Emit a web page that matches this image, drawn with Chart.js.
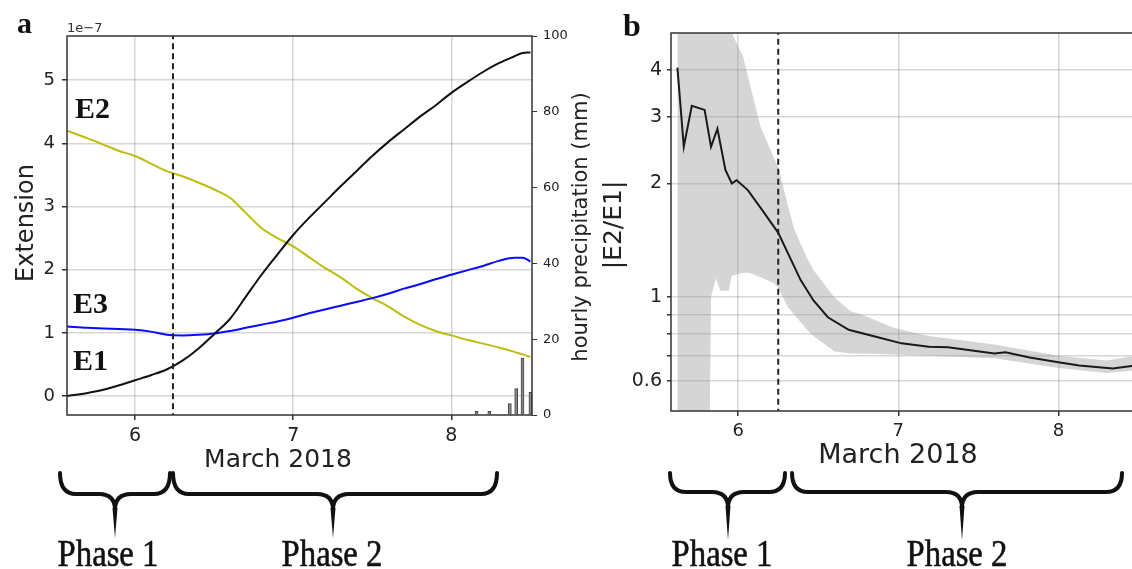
<!DOCTYPE html>
<html>
<head>
<meta charset="utf-8">
<script src="https://cdn.jsdelivr.net/npm/chart.js@4.4.1/dist/chart.umd.min.js"></script>
<style>
  html, body { margin: 0; padding: 0; background: #fff; overflow: hidden; width: 1132px; height: 569px; }
  #wrapA { position: absolute; left: 0; top: 0; width: 600px; height: 569px; }
  #wrapB { position: absolute; left: 600px; top: 0; width: 540px; height: 569px; }
</style>
</head>
<body>
<div id="wrapA"><canvas id="chartA" width="600" height="569" style="width:600px;height:569px"></canvas></div>
<div id="wrapB"><canvas id="chartB" width="540" height="569" style="width:540px;height:569px"></canvas></div>
<script>
// ---- panel a : extension (units of 1e-7), days of March 2018 ----
const days = [5.57, 5.7, 5.8, 5.9, 6.0, 6.1, 6.2, 6.3, 6.4, 6.5, 6.6, 6.7, 6.8, 6.9, 7.0, 7.1, 7.2, 7.3, 7.4, 7.5,
              7.6, 7.7, 7.8, 7.9, 8.0, 8.1, 8.2, 8.3, 8.4, 8.45, 8.5];
const e1 = [0.0, 0.05, 0.1, 0.17, 0.25, 0.33, 0.42, 0.56, 0.75, 0.98, 1.22, 1.57, 1.92, 2.24, 2.55, 2.82, 3.07, 3.32, 3.56, 3.8,
            4.02, 4.22, 4.42, 4.6, 4.8, 4.97, 5.13, 5.27, 5.38, 5.43, 5.44];
const e2 = [4.2, 4.08, 3.98, 3.88, 3.8, 3.68, 3.56, 3.48, 3.38, 3.27, 3.14, 2.9, 2.66, 2.5, 2.37, 2.2, 2.03, 1.88, 1.7, 1.55,
            1.42, 1.26, 1.13, 1.03, 0.96, 0.89, 0.83, 0.77, 0.7, 0.66, 0.62];
const e3 = [1.1, 1.08, 1.07, 1.06, 1.05, 1.02, 0.97, 0.96, 0.97, 0.99, 1.03, 1.08, 1.13, 1.18, 1.24, 1.31, 1.37, 1.43, 1.49, 1.55,
            1.62, 1.7, 1.77, 1.85, 1.92, 1.99, 2.06, 2.14, 2.19, 2.19, 2.13];
const rainDays = [8.16, 8.24, 8.37, 8.41, 8.45, 8.5];
const rainMm = [1, 1, 3, 7, 15, 6];
const splitA = 6.24;
const xTicks = [6, 7, 8];
const yTicksA = [0, 1, 2, 3, 4, 5];
const rainTicks = [0, 20, 40, 60, 80, 100];

// ---- panel b : |E2/E1| ----
const ratioDays = [5.62, 5.66, 5.71, 5.79, 5.83, 5.87, 5.92, 5.96, 5.99, 6.06, 6.15, 6.25, 6.39, 6.47, 6.56, 6.69, 6.89,
                   7.02, 7.19, 7.31, 7.6, 7.67, 7.82, 8.0, 8.13, 8.34, 8.48];
const ratio = [4.05, 2.5, 3.21, 3.13, 2.5, 2.79, 2.17, 2.0, 2.04, 1.92, 1.7, 1.48, 1.11, 0.98, 0.885, 0.82, 0.78,
               0.755, 0.74, 0.737, 0.71, 0.715, 0.693, 0.673, 0.66, 0.648, 0.66];
const bandDays = [5.62, 5.82, 5.83, 5.86, 5.89, 5.94, 5.96, 6.03, 6.07, 6.14, 6.22, 6.25, 6.31, 6.35, 6.43, 6.47, 6.6,
                  6.7, 6.77, 6.97, 7.19, 7.6, 8.0, 8.3, 8.48];
const bandHigh = [8, 8, 8, 8, 8, 8, 5.0, 4.33, 3.7, 2.82, 2.35, 2.21, 1.75, 1.51, 1.27, 1.18, 1.0,
                  0.92, 0.9, 0.83, 0.79, 0.75, 0.7, 0.68, 0.7];
const bandLow = [0.4, 0.4, 1.0, 1.12, 1.04, 1.04, 1.14, 1.16, 1.16, 1.13, 1.09, 1.06, 0.94, 0.9, 0.82, 0.79, 0.72,
                 0.71, 0.71, 0.705, 0.7, 0.69, 0.65, 0.63, 0.64];
const splitB = 6.25;
const yTicksB = [0.6, 0.7, 0.8, 0.9, 1, 2, 3, 4];
const yLabelsB = [0.6, 1, 2, 3, 4];

Chart.defaults.font.family = 'DejaVu Sans';
Chart.defaults.color = '#222';

const pts = (xs, ys) => xs.map((x, i) => ({ x: x, y: ys[i] }));
const gridColor = 'rgba(0,0,0,0.16)';

function line(data, color, extra) {
  return Object.assign({ type: 'line', data: data, borderColor: color, borderWidth: 2, pointRadius: 0,
                         fill: false, tension: 0 }, extra || {});
}

function drawBrace(ctx, x1, x2, xm, yTop, yMid, yTip) {
  const r = 16;
  ctx.save();
  ctx.strokeStyle = '#111';
  ctx.fillStyle = '#111';
  ctx.lineWidth = 4;
  ctx.lineCap = 'round';
  ctx.beginPath();
  ctx.moveTo(x1, yTop);
  ctx.quadraticCurveTo(x1, yMid, x1 + r, yMid);
  ctx.lineTo(xm - r, yMid);
  ctx.quadraticCurveTo(xm, yMid, xm, yMid + r);
  ctx.moveTo(x2, yTop);
  ctx.quadraticCurveTo(x2, yMid, x2 - r, yMid);
  ctx.lineTo(xm + r, yMid);
  ctx.quadraticCurveTo(xm, yMid, xm, yMid + r);
  ctx.stroke();
  ctx.beginPath();
  ctx.moveTo(xm - 2.5, yMid + r - 2);
  ctx.lineTo(xm + 2.5, yMid + r - 2);
  ctx.lineTo(xm, yTip);
  ctx.closePath();
  ctx.fill();
  ctx.restore();
}

function phaseText(ctx, text, cx, base) {
  ctx.save();
  ctx.translate(cx, base);
  ctx.scale(0.86, 1);
  ctx.font = '38px "Liberation Serif"';
  ctx.textAlign = 'center';
  ctx.textBaseline = 'alphabetic';
  ctx.fillStyle = '#111';
  ctx.strokeStyle = '#111';
  ctx.lineWidth = 0.6;
  ctx.fillText(text, 0, 0);
  ctx.strokeText(text, 0, 0);
  ctx.restore();
}

function vText(ctx, text, cx, cy, font) {
  ctx.save();
  ctx.translate(cx, cy);
  ctx.rotate(-Math.PI / 2);
  ctx.font = font;
  ctx.textAlign = 'center';
  ctx.textBaseline = 'middle';
  ctx.fillStyle = '#222';
  ctx.fillText(text, 0, 0);
  ctx.restore();
}

function text(ctx, t, x, y, font, align) {
  ctx.save();
  ctx.font = font;
  ctx.textAlign = align || 'left';
  ctx.textBaseline = 'alphabetic';
  ctx.fillStyle = '#111';
  ctx.fillText(t, x, y);
  ctx.restore();
}

const frame = {
  id: 'frame',
  afterDatasetsDraw(chart) {
    const a = chart.chartArea, ctx = chart.ctx;
    ctx.save();
    ctx.strokeStyle = '#333';
    ctx.lineWidth = 1.5;
    ctx.strokeRect(a.left, a.top, a.right - a.left, a.bottom - a.top);
    ctx.restore();
  }
};

const notesA = {
  id: 'notesA',
  afterDraw(chart) {
    const ctx = chart.ctx;
    text(ctx, 'a', 17, 33, 'bold 30px "Liberation Serif"');
    ctx.save(); ctx.fillStyle = '#333'; ctx.font = '13px "DejaVu Sans"'; ctx.fillText('1e\u22127', 67, 32); ctx.restore();
    text(ctx, 'E2', 75, 118, 'bold 30px "Liberation Serif"');
    text(ctx, 'E3', 73, 313, 'bold 30px "Liberation Serif"');
    text(ctx, 'E1', 73, 370, 'bold 30px "Liberation Serif"');
    vText(ctx, 'Extension', 27, 223, '24px "DejaVu Sans"');
    vText(ctx, 'hourly precipitation (mm)', 582, 227, '21px "DejaVu Sans"');
    ctx.save(); ctx.fillStyle = '#222'; ctx.font = '25px "DejaVu Sans"'; ctx.textAlign = 'center';
    ctx.fillText('March 2018', 278, 467); ctx.restore();
    drawBrace(ctx, 60, 170, 115, 473, 494, 538);
    drawBrace(ctx, 173, 497, 333, 473, 494, 538);
    phaseText(ctx, 'Phase 1', 108, 566);
    phaseText(ctx, 'Phase 2', 332, 566);
  }
};

const notesB = {
  id: 'notesB',
  afterDraw(chart) {
    const ctx = chart.ctx;
    text(ctx, 'b', 23, 36, 'bold 32px "Liberation Serif"');
    vText(ctx, '|E2/E1|', 14, 225, '25px "DejaVu Sans"');
    ctx.save(); ctx.fillStyle = '#222'; ctx.font = '27px "DejaVu Sans"'; ctx.textAlign = 'center';
    ctx.fillText('March 2018', 298, 463); ctx.restore();
    drawBrace(ctx, 70, 185, 128, 473, 492, 540);
    drawBrace(ctx, 192, 522, 362, 473, 492, 540);
    phaseText(ctx, 'Phase 1', 122, 566);
    phaseText(ctx, 'Phase 2', 357, 566);
  }
};

new Chart(document.getElementById('chartA'), {
  type: 'line',
  data: {
    datasets: [
      line([{ x: splitA, y: -1 }, { x: splitA, y: 7 }], '#222', { borderDash: [6, 4] }),
      line(pts(days, e1), '#111', { cubicInterpolationMode: 'monotone' }),
      line(pts(days, e3), '#0a0aff', { cubicInterpolationMode: 'monotone' }),
      line(pts(days, e2), '#bdbd10', { cubicInterpolationMode: 'monotone' }),
      { type: 'bar', data: pts(rainDays, rainMm), yAxisID: 'y1', barThickness: 3,
        backgroundColor: '#8a8a8a', borderColor: '#444', borderWidth: 1 }
    ]
  },
  options: {
    responsive: false,
    animation: false,
    events: [],
    layout: { padding: { top: 36, left: 0, right: 0, bottom: 0 } },
    plugins: { legend: { display: false }, tooltip: { enabled: false } },
    scales: {
      x: {
        type: 'linear', min: 5.57, max: 8.51, offset: false,
        afterBuildTicks: s => { s.ticks = xTicks.map(v => ({ value: v })); },
        afterFit: s => { s.height = 154; },
        grid: { color: gridColor, lineWidth: 1.5, tickLength: 5, tickColor: '#333', offset: false },
        border: { display: false },
        ticks: { font: { size: 19 }, padding: 5, maxRotation: 0 }
      },
      y: {
        position: 'left', min: -0.3, max: 5.7,
        afterBuildTicks: s => { s.ticks = yTicksA.map(v => ({ value: v })); },
        afterFit: s => { s.width = 67; },
        grid: { color: gridColor, lineWidth: 1.5, tickLength: 5, tickColor: '#333' },
        border: { display: false },
        ticks: { font: { size: 18 }, padding: 7 }
      },
      y1: {
        position: 'right', min: 0, max: 100,
        afterBuildTicks: s => { s.ticks = rainTicks.map(v => ({ value: v })); },
        afterFit: s => { s.width = 68; },
        grid: { drawOnChartArea: false, tickLength: 5, tickColor: '#333' },
        border: { display: false },
        ticks: { font: { size: 13 }, padding: 6 }
      }
    }
  },
  plugins: [frame, notesA]
});

new Chart(document.getElementById('chartB'), {
  type: 'line',
  data: {
    datasets: [
      line([{ x: splitB, y: 0.3 }, { x: splitB, y: 9 }], '#222', { borderDash: [6, 4] }),
      line(pts(ratioDays, ratio), '#1a1a1a'),
      line(pts(bandDays, bandLow), 'rgba(0,0,0,0)', { borderWidth: 0 }),
      line(pts(bandDays, bandHigh), 'rgba(0,0,0,0)', { borderWidth: 0, fill: '-1',
            backgroundColor: 'rgba(150,150,150,0.4)' })
    ]
  },
  options: {
    responsive: false,
    animation: false,
    events: [],
    layout: { padding: { top: 33, left: 0, right: 0, bottom: 0 } },
    plugins: { legend: { display: false }, tooltip: { enabled: false } },
    scales: {
      x: {
        type: 'linear', min: 5.58, max: 8.51,
        afterBuildTicks: s => { s.ticks = xTicks.map(v => ({ value: v })); },
        afterFit: s => { s.height = 158; },
        grid: { color: gridColor, lineWidth: 1.5, tickLength: 5, tickColor: '#333' },
        border: { display: false },
        ticks: { font: { size: 18 }, padding: 5, maxRotation: 0 }
      },
      y: {
        type: 'logarithmic', position: 'left', min: 0.5, max: 5.0,
        afterBuildTicks: s => { s.ticks = yTicksB.map(v => ({ value: v })); },
        afterFit: s => { s.width = 71; },
        grid: { color: gridColor, lineWidth: 1.5, tickLength: 4, tickColor: '#333' },
        border: { display: false },
        ticks: { font: { size: 19 }, padding: 5, autoSkip: false,
                 callback: v => yLabelsB.includes(v) ? String(v) : '' }
      }
    }
  },
  plugins: [frame, notesB]
});
</script>
</body>
</html>
